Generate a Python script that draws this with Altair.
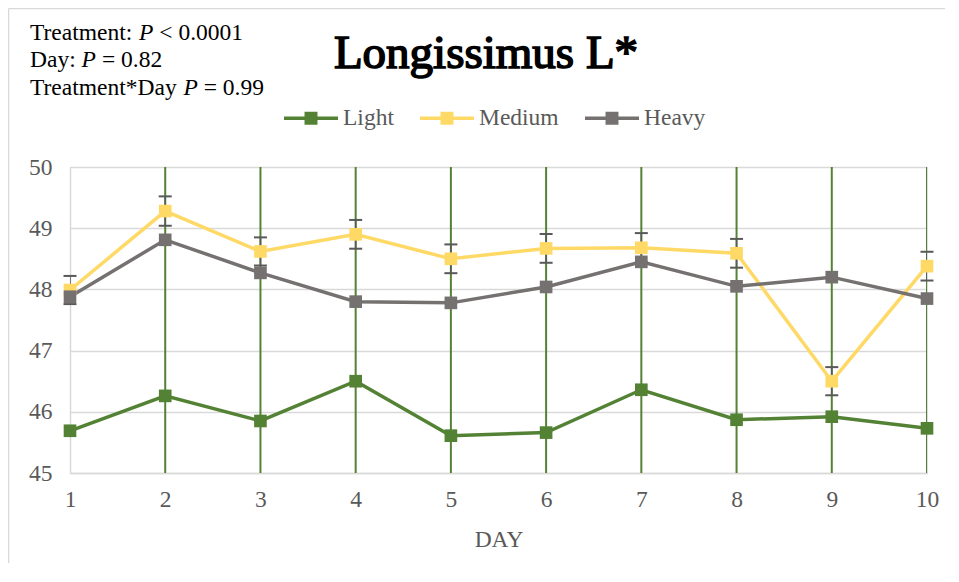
import altair as alt
import pandas as pd

# ---- data ----
days = [1, 2, 3, 4, 5, 6, 7, 8, 9, 10]
series_names = ["Light", "Medium", "Heavy"]
light = [45.69, 46.26, 45.85, 46.50, 45.61, 45.66, 46.36, 45.87, 45.92, 45.73]
medium = [47.99, 49.28, 48.62, 48.90, 48.50, 48.67, 48.68, 48.59, 46.50, 48.38]
heavy = [47.88, 48.81, 48.27, 47.80, 47.78, 48.04, 48.45, 48.05, 48.20, 47.85]
light_err = [0, 4.6, 4.6, 4.6, 4.6, 4.6, 4.6, 4.6, 4.6, 4.6]
medium_err = [0.23, 0.24, 0.23, 0.235, 0.235, 0.235, 0.24, 0.235, 0.23, 0.235]
colors = ["#548235", "#FFD966", "#767171"]
err_color = "#595959"

title_text = "Longissimus L*"
x_title = "DAY"
y_ticks = [45, 46, 47, 48, 49, 50]

ann_text = ["Treatment:", "P", "< 0.0001",
            "Day:", "P", "= 0.82",
            "Treatment*Day", "P", "= 0.99"]
ann_style = ["normal", "italic", "normal"] * 3

FONT = "Times New Roman, Liberation Serif, serif"
FS = 23.5
W, H = 857, 306
PAD_L, PAD_T = 62, 159

rows = []
for name, vals in zip(series_names, [light, medium, heavy]):
    for d, v in zip(days, vals):
        rows.append({"day": d, "series": name, "value": v})
df = pd.DataFrame(rows)

df_light_err = pd.DataFrame({"day": days, "value": light, "err": light_err})
df_light_err = df_light_err[df_light_err.err > 0].copy()
df_light_err["lo"] = df_light_err.value - df_light_err.err
df_light_err["hi"] = df_light_err.value + df_light_err.err

df_med_err = pd.DataFrame({"day": days, "value": medium, "err": medium_err})
df_med_err["lo"] = df_med_err.value - df_med_err.err
df_med_err["hi"] = df_med_err.value + df_med_err.err

xs = alt.Scale(domain=[1, 10], nice=False, zero=False)
ys = alt.Scale(domain=[45, 50], nice=False, zero=False)
cs = alt.Scale(domain=series_names, range=colors)

x_enc = alt.X("day:Q", scale=xs, axis=alt.Axis(
    values=days, format="d", title=x_title, grid=False, ticks=False, tickSize=0,
    domainColor="#D9D9D9", domainWidth=1.5, labelFlush=False, labelOverlap=False,
    labelFont=FONT, labelFontSize=FS, labelColor=err_color, labelPadding=14,
    labelBaseline="top",
    titleFont=FONT, titleFontSize=FS, titleColor=err_color, titleFontWeight="normal",
    titleBaseline="alphabetic", titleY=73))
y_enc = alt.Y("value:Q", scale=ys, axis=alt.Axis(
    values=y_ticks, format="d", title=None, ticks=False, tickSize=0,
    labelFlush=False, labelOverlap=False,
    gridColor="#D9D9D9", gridWidth=1.5, domainColor="#D9D9D9", domainWidth=1.5,
    labelFont=FONT, labelFontSize=FS, labelColor=err_color, labelPadding=18))

light_err_layer = alt.Chart(df_light_err).mark_rule(
    color=colors[0], strokeWidth=2, clip=True).encode(
    x=alt.X("day:Q", scale=xs), y=alt.Y("lo:Q", scale=ys), y2="hi:Q")

med_err_rule = alt.Chart(df_med_err).mark_rule(
    color=err_color, strokeWidth=1.5, clip=True).encode(
    x=alt.X("day:Q", scale=xs), y=alt.Y("lo:Q", scale=ys), y2="hi:Q")
med_cap_lo = alt.Chart(df_med_err).mark_tick(
    color=err_color, orient="horizontal", size=13, thickness=2, opacity=1).encode(
    x=alt.X("day:Q", scale=xs), y=alt.Y("lo:Q", scale=ys))
med_cap_hi = alt.Chart(df_med_err).mark_tick(
    color=err_color, orient="horizontal", size=13, thickness=2, opacity=1).encode(
    x=alt.X("day:Q", scale=xs), y=alt.Y("hi:Q", scale=ys))

lines = alt.Chart(df).mark_line(strokeWidth=3.5).encode(
    x=x_enc, y=y_enc,
    color=alt.Color("series:N", scale=cs, sort=series_names, legend=None),
    detail="series:N")

sym_path = ("M-1,-0.065L1,-0.065L1,0.065L-1,0.065Z "
            "M-0.24,-0.24L0.24,-0.24L0.24,0.24L-0.24,0.24Z")
squares = alt.Chart(df).mark_square(size=160, filled=True, opacity=1).encode(
    x=alt.X("day:Q", scale=xs), y=alt.Y("value:Q", scale=ys),
    color=alt.Color("series:N", scale=cs, sort=series_names, legend=alt.Legend(
        title=None, orient="none", direction="horizontal",
        legendX=214, legendY=-76, padding=0,
        symbolType=sym_path, symbolSize=2916, symbolStrokeWidth=0, symbolOpacity=1,
        labelFont=FONT, labelFontSize=FS, labelColor=err_color, labelOffset=5,
        columnPadding=26, labelLimit=300)))

ann_x = [30, 139, 159.3, 30, 81.6, 101.9, 30, 183.4, 203.7]
ann_y = [40, 40, 40, 67, 67, 67, 95, 95, 95]
df_ann = pd.DataFrame({"t": ann_text, "st": ann_style,
                       "px": [v - 70 for v in ann_x], "py": [v - 167 for v in ann_y]})
ann_layers = []
for i in range(len(df_ann)):
    ann_layers.append(alt.Chart(df_ann.iloc[[i]]).mark_text(
        font=FONT, fontSize=FS, color="#000000", align="left", baseline="alphabetic",
        fontStyle=ann_style[i]).encode(
        x=alt.value(float(df_ann.px.iloc[i])), y=alt.value(float(df_ann.py.iloc[i])),
        text="t:N"))

# bold serif title (regular serif face thickened with a stroke)
df_title = pd.DataFrame({"t": [title_text]})
title_layer = alt.Chart(df_title).mark_text(
    font=FONT, fontSize=47, color="#000000", stroke="#000000", strokeWidth=1.6,
    align="center", baseline="alphabetic").encode(
    x=alt.value(416), y=alt.value(-99), text="t:N")

df_b = pd.DataFrame({"k": [0]})
border_top = alt.Chart(df_b).mark_rule(color="#D9D9D9", strokeWidth=1.5).encode(
    x=alt.value(-PAD_L + 0.5), x2=alt.value(W + 40), y=alt.value(-PAD_T + 0.5))
border_left = alt.Chart(df_b).mark_rule(color="#D9D9D9", strokeWidth=1.5).encode(
    x=alt.value(-PAD_L + 0.5), y=alt.value(-PAD_T + 0.5), y2=alt.value(H + 120))

chart = alt.layer(
    border_top, border_left,
    light_err_layer, lines, med_err_rule, med_cap_lo, med_cap_hi, squares,
    title_layer, *ann_layers
).resolve_scale(color="independent").properties(
    width=W, height=H,
    autosize=alt.AutoSizeParams(type="none"),
    padding={"left": PAD_L, "top": PAD_T, "right": 18, "bottom": 90},
).configure_view(stroke=None).configure(background="white")

chart.save("out.html", embed_options={"renderer": "svg", "actions": False})
